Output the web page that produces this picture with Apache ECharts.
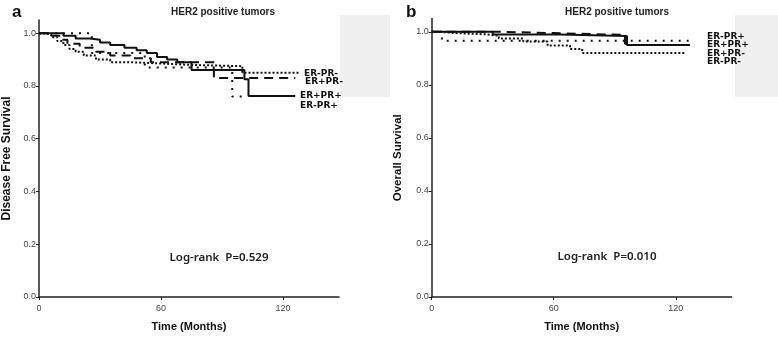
<!DOCTYPE html>
<html>
<head>
<meta charset="utf-8">
<script src="https://cdn.jsdelivr.net/npm/echarts@6/dist/echarts.min.js"></script>
<style>
  html, body { margin: 0; padding: 0; background: #fff; }
  #chart { width: 778px; height: 337px; }
</style>
</head>
<body>
<div id="chart"></div>
<script>
// tick values
const xTicks = [0, 60, 120];
const yTicks = [0, 0.2, 0.4, 0.6, 0.8, 1.0];

// panel a: disease free survival (time in months, survival)
const dfsTimeA1 = [0, 8, 12, 18, 25, 30, 35, 42, 48, 53, 58, 63, 68, 75, 101, 103, 126];
const dfsSurvA1 = [1, 1, 0.99, 0.98, 0.975, 0.965, 0.955, 0.945, 0.935, 0.925, 0.91, 0.9, 0.89, 0.86, 0.825, 0.762, 0.762]; // ER+PR+
const dfsTimeA2 = [0, 3, 6, 9, 12, 15, 18, 22, 28, 35, 45, 60, 74, 100, 128];
const dfsSurvA2 = [1, 0.995, 0.985, 0.97, 0.955, 0.94, 0.93, 0.915, 0.9, 0.89, 0.885, 0.88, 0.875, 0.85, 0.85]; // ER-PR-
const dfsTimeA3 = [0, 5, 10, 14, 20, 28, 35, 45, 55, 86, 126];
const dfsSurvA3 = [1, 0.99, 0.975, 0.96, 0.945, 0.93, 0.915, 0.905, 0.89, 0.83, 0.83]; // ER+PR-
const dfsTimeA4 = [0, 26, 52, 95, 101];
const dfsSurvA4 = [1, 0.925, 0.87, 0.76, 0.76]; // ER-PR+

// panel b: overall survival
const osTimeB1 = [0, 30, 63, 96, 127];
const osSurvB1 = [1, 0.99, 0.984, 0.95, 0.95]; // ER+PR+
const osTimeB2 = [0, 5, 128];
const osSurvB2 = [1, 0.966, 0.966]; // ER-PR+
const osTimeB3 = [0, 33, 60, 95, 98];
const osSurvB3 = [1, 0.995, 0.988, 0.955, 0.955]; // ER+PR-
const osTimeB4 = [0, 3, 12, 27, 33, 45, 57, 68, 74, 125];
const osSurvB4 = [1, 0.995, 0.99, 0.985, 0.975, 0.963, 0.948, 0.935, 0.92, 0.92]; // ER-PR-

const labelsA = ['ER-PR-', 'ER+PR-', 'ER+PR+', 'ER-PR+'];
const labelsB = ['ER-PR+', 'ER+PR+', 'ER+PR-', 'ER-PR-'];
const pValues = ['Log-rank  P=0.529', 'Log-rank  P=0.010'];

const chart = echarts.init(document.getElementById('chart'));
const zip = (t, s) => t.map((v, i) => [v, s[i]]);

const SOLID = 'solid', FINE = [2, 2], COARSE = [2, 6], DASH = [9, 6];

function km(gridIndex, t, s, type) {
    return {
        type: 'line', xAxisIndex: gridIndex, yAxisIndex: gridIndex,
        step: 'end', symbol: 'none', data: zip(t, s),
        lineStyle: { color: '#111', width: 2, type: type }
    };
}

function xAxis(gridIndex) {
    return {
        type: 'value', gridIndex: gridIndex, min: 0, max: 147.5,
        name: 'Time (Months)', nameLocation: 'middle', nameGap: 24,
        nameTextStyle: { fontWeight: 'bold', fontSize: 11, color: '#111', fontFamily: 'Liberation Sans' },
        axisLine: { lineStyle: { color: '#222', width: 1.5 } },
        axisTick: { show: true, length: 3, customValues: xTicks, lineStyle: { color: '#222' } },
        axisLabel: { customValues: xTicks, fontSize: 9, color: '#444', margin: 7, fontFamily: 'Liberation Sans' },
        splitLine: { show: false }
    };
}

function yAxis(gridIndex, name, size, gap) {
    return {
        type: 'value', gridIndex: gridIndex, min: 0, max: 1.05,
        name: name, nameLocation: 'middle', nameGap: gap,
        nameTextStyle: { fontWeight: 'bold', fontSize: size, color: '#111', fontFamily: 'Liberation Sans' },
        axisLine: { show: true, lineStyle: { color: '#222', width: 1.5 } },
        axisTick: { show: true, length: 3, customValues: yTicks, lineStyle: { color: '#222' } },
        axisLabel: { customValues: yTicks, fontSize: 9, color: '#444', margin: 3, fontFamily: 'Liberation Sans',
                     formatter: v => v.toFixed(1) },
        splitLine: { show: false }
    };
}

const boldLabel = { fontSize: 9, fontWeight: 'bold', fill: '#111', fontFamily: 'DejaVu Sans', verticalAlign: 'middle' };

const graphic = [
    // grey boxes at right edge of each panel
    { type: 'rect', shape: { x: 340, y: 15, width: 50, height: 82 }, style: { fill: '#f0f0f0' }, z: -1 },
    { type: 'rect', shape: { x: 735, y: 15, width: 43, height: 82 }, style: { fill: '#f0f0f0' }, z: -1 },
    // panel letters
    { type: 'text', x: 12, y: 4, style: { text: 'a', fontSize: 17, fontWeight: 'bold', fill: '#111', fontFamily: 'Liberation Sans' } },
    { type: 'text', x: 406, y: 4, style: { text: 'b', fontSize: 17, fontWeight: 'bold', fill: '#111', fontFamily: 'Liberation Sans' } },
    // titles
    { type: 'text', x: 223, y: 12, style: { text: 'HER2 positive tumors', fontSize: 10, fontWeight: 'bold', fill: '#222', fontFamily: 'Liberation Sans Narrow, Liberation Sans', align: 'center', verticalAlign: 'middle' } },
    { type: 'text', x: 617, y: 12, style: { text: 'HER2 positive tumors', fontSize: 10, fontWeight: 'bold', fill: '#222', fontFamily: 'Liberation Sans Narrow, Liberation Sans', align: 'center', verticalAlign: 'middle' } },
    // log-rank annotations
    { type: 'text', x: 219, y: 258, style: { text: pValues[0], fontSize: 11.5, fontWeight: 600, fill: '#222', fontFamily: 'Noto Sans', align: 'center', verticalAlign: 'middle' } },
    { type: 'text', x: 607, y: 257, style: { text: pValues[1], fontSize: 11.5, fontWeight: 600, fill: '#222', fontFamily: 'Noto Sans', align: 'center', verticalAlign: 'middle' } }
];

// curve labels
const labelPosA = [[304, 74], [305, 82], [300, 96], [300, 106]];
labelsA.forEach((t, i) => graphic.push({ type: 'text', x: labelPosA[i][0], y: labelPosA[i][1], style: Object.assign({ text: t }, boldLabel) }));
const labelPosB = [[707, 37], [707, 45], [707, 53.5], [707, 62]];
labelsB.forEach((t, i) => graphic.push({ type: 'text', x: labelPosB[i][0], y: labelPosB[i][1], style: Object.assign({ text: t }, boldLabel) }));

chart.setOption({
    animation: false,
    grid: [
        { left: 39, top: 20, width: 300, height: 280 },
        { left: 431.7, top: 18.5, width: 300, height: 280 }
    ],
    xAxis: [xAxis(0), xAxis(1)],
    yAxis: [yAxis(0, 'Disease Free Survival', 12, 26), yAxis(1, 'Overall Survival', 11.5, 28)],
    series: [
        km(0, dfsTimeA1, dfsSurvA1, SOLID),
        km(0, dfsTimeA2, dfsSurvA2, FINE),
        km(0, dfsTimeA3, dfsSurvA3, DASH),
        km(0, dfsTimeA4, dfsSurvA4, COARSE),
        km(1, osTimeB1, osSurvB1, SOLID),
        km(1, osTimeB2, osSurvB2, COARSE),
        km(1, osTimeB3, osSurvB3, DASH),
        km(1, osTimeB4, osSurvB4, FINE)
    ],
    graphic: graphic
});
</script>
</body>
</html>
